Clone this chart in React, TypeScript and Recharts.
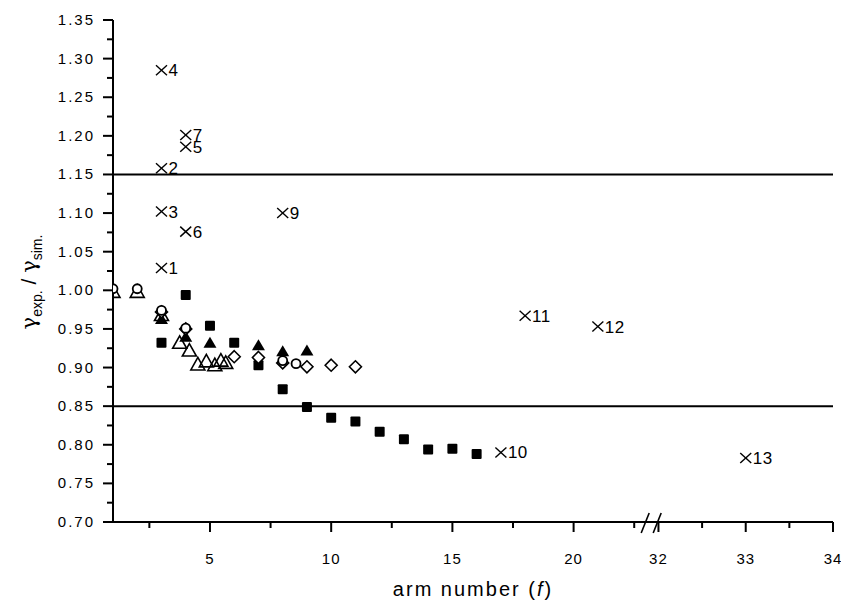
import React from "react";
import { ScatterChart, Scatter, XAxis, YAxis, ReferenceLine } from "recharts";

const FONT = '"Liberation Sans", Arial, Helvetica, sans-serif';
const GREEK = '"DejaVu Serif", "Liberation Serif", serif';

// filled squares
const squareX = [3, 4, 5, 6, 7, 8, 9, 10, 11, 12, 13, 14, 15, 16];
const squareY = [0.932, 0.994, 0.954, 0.932, 0.903, 0.872, 0.849, 0.835, 0.83, 0.817, 0.807, 0.794, 0.795, 0.788];

// filled triangles
const triFilledX = [3, 4, 5, 7, 8, 9];
const triFilledY = [0.963, 0.94, 0.932, 0.929, 0.921, 0.922];

// open triangles
const triOpenX = [1, 2, 3, 3.75, 4.15, 4.5, 4.85, 5.2, 5.45, 5.65];
const triOpenY = [0.998, 0.998, 0.968, 0.932, 0.922, 0.904, 0.908, 0.903, 0.909, 0.906];

// open diamonds
const diamondX = [3, 4, 6, 7, 8, 9, 10, 11];
const diamondY = [0.972, 0.95, 0.914, 0.913, 0.906, 0.901, 0.903, 0.901];

// open circles
const circleX = [1, 2, 3, 4, 8, 8.55];
const circleY = [1.002, 1.002, 0.974, 0.951, 0.909, 0.905];

// numbered crosses
const crossX = [3, 3, 3, 3, 4, 4, 4, 8, 17, 18, 21, 33];
const crossY = [1.029, 1.158, 1.102, 1.285, 1.186, 1.076, 1.201, 1.1, 0.79, 0.967, 0.953, 0.783];
const crossLabels = ["1", "2", "3", "4", "5", "6", "7", "9", "10", "11", "12", "13"];

// axis ticks
const xMajor = [5, 10, 15, 20, 32, 33, 34];
const xMinor = [2.5, 7.5, 12.5, 17.5, 22.5, 32.5, 33.5];
const yMajor = [0.7, 0.75, 0.8, 0.85, 0.9, 0.95, 1.0, 1.05, 1.1, 1.15, 1.2, 1.25, 1.3, 1.35];
const yMinor = [0.725, 0.775, 0.825, 0.875, 0.925, 0.975, 1.025, 1.075, 1.125, 1.175, 1.225, 1.275, 1.325];

// broken x axis: 1..~23 linear, then 32..34 stretched
const U32 = 23.5;
const STRETCH = 3.6;
const BREAK_U = 23.2;
const toU = (x: number) => (x < 30 ? x : U32 + (x - 32) * STRETCH);
const X_MAX = toU(34);

const pts = (xs: number[], ys: number[]) => xs.map((x, i) => ({ u: toU(x), v: ys[i] }));
const squares = pts(squareX, squareY);
const triFilled = pts(triFilledX, triFilledY);
const triOpen = pts(triOpenX, triOpenY);
const diamonds = pts(diamondX, diamondY);
const circles = pts(circleX, circleY);
const crosses = crossX.map((x, i) => ({ u: toU(x), v: crossY[i], label: crossLabels[i] }));

const xLabelMap = new Map<number, string>();
xMajor.forEach((x) => xLabelMap.set(toU(x), String(x)));
const xTicks = [...xMajor, ...xMinor].map(toU).concat([BREAK_U]).sort((a, b) => a - b);
const yMajorSet = new Set(yMajor);
const yTicks = [...yMajor, ...yMinor].sort((a, b) => a - b);

const XTick = ({ x, y, payload }: any) => {
  if (payload.value === BREAK_U) {
    return (
      <g stroke="#000" strokeWidth={1.6}>
        <line x1={x - 10} y1={y + 11} x2={x - 2} y2={y - 9} />
        <line x1={x + 2} y1={y + 11} x2={x + 10} y2={y - 9} />
      </g>
    );
  }
  const label = xLabelMap.get(payload.value);
  return (
    <g>
      <line x1={x} x2={x} y1={y} y2={y + (label ? 10 : 6)} stroke="#000" strokeWidth={2} />
      {label && (
        <text x={x} y={y + 42} textAnchor="middle" fontSize={15} fontFamily={FONT} letterSpacing={1} fill="#000">
          {label}
        </text>
      )}
    </g>
  );
};

const YTick = ({ x, y, payload }: any) => {
  const major = yMajorSet.has(payload.value);
  return (
    <g>
      <line x1={x - (major ? 10 : 6)} x2={x} y1={y} y2={y} stroke="#000" strokeWidth={2} />
      {major && (
        <text x={x - 18} y={y + 5} textAnchor="end" fontSize={15} fontFamily={FONT} letterSpacing={2} fill="#000">
          {payload.value.toFixed(2)}
        </text>
      )}
    </g>
  );
};

const YTitle = () => (
  <text x={36} y={282} transform="rotate(-90 36 282)" textAnchor="middle" fontSize={21} fontFamily={FONT} fill="#000">
    <tspan fontFamily={GREEK}>γ</tspan>
    <tspan fontSize={14} dy={6}>exp.</tspan>
    <tspan dy={-6}> / </tspan>
    <tspan fontFamily={GREEK}>γ</tspan>
    <tspan fontSize={14} dy={6}>sim.</tspan>
  </text>
);

const XTitle = () => (
  <text x={473} y={596} textAnchor="middle" fontSize={20} fontFamily={FONT} letterSpacing={2} fill="#000">
    arm number (<tspan fontStyle="italic">f</tspan>)
  </text>
);

const Square = ({ cx, cy }: any) => <rect x={cx - 5} y={cy - 5} width={10} height={10} rx={1} fill="#000" />;
const TriFilled = ({ cx, cy }: any) => (
  <polygon points={`${cx},${cy - 6} ${cx + 6.5},${cy + 5} ${cx - 6.5},${cy + 5}`} fill="#000" />
);
const TriOpen = ({ cx, cy }: any) => (
  <polygon
    points={`${cx},${cy - 7} ${cx + 7},${cy + 5.5} ${cx - 7},${cy + 5.5}`}
    fill="none"
    stroke="#000"
    strokeWidth={1.6}
  />
);
const Diamond = ({ cx, cy }: any) => (
  <polygon
    points={`${cx},${cy - 6} ${cx + 6},${cy} ${cx},${cy + 6} ${cx - 6},${cy}`}
    fill="#fff"
    stroke="#000"
    strokeWidth={1.6}
  />
);
const Circle = ({ cx, cy }: any) => <circle cx={cx} cy={cy} r={4.5} fill="#fff" stroke="#000" strokeWidth={1.8} />;
const Cross = ({ cx, cy, payload }: any) => (
  <g>
    <line x1={cx - 5.5} y1={cy - 5} x2={cx + 5.5} y2={cy + 5} stroke="#000" strokeWidth={1.4} />
    <line x1={cx - 5.5} y1={cy + 5} x2={cx + 5.5} y2={cy - 5} stroke="#000" strokeWidth={1.4} />
    <text x={cx + 7} y={cy + 6} fontSize={17} fontFamily={FONT} letterSpacing={0.5} fill="#000">
      {payload.label}
    </text>
  </g>
);

export default function App() {
  return (
    <div style={{ position: "absolute", left: 0, top: 0, width: 841, height: 602, background: "#fff" }}>
      <ScatterChart width={841} height={602} margin={{ top: 20, right: 8, bottom: 0, left: 0 }}>
        <XAxis
          type="number"
          dataKey="u"
          domain={[1, X_MAX]}
          ticks={xTicks}
          interval={0}
          height={80}
          tickSize={0}
          tickMargin={0}
          tickLine={false}
          tick={<XTick />}
          axisLine={{ stroke: "#000", strokeWidth: 2 }}
          allowDataOverflow
          label={<XTitle />}
        />
        <YAxis
          type="number"
          dataKey="v"
          domain={[0.7, 1.35]}
          ticks={yTicks}
          interval={0}
          width={113}
          tickSize={0}
          tickMargin={0}
          tickLine={false}
          tick={<YTick />}
          axisLine={{ stroke: "#000", strokeWidth: 2 }}
          allowDataOverflow
          label={<YTitle />}
        />
        <ReferenceLine y={1.15} stroke="#000" strokeWidth={2} />
        <ReferenceLine y={0.85} stroke="#000" strokeWidth={2} />
        <Scatter data={squares} shape={<Square />} isAnimationActive={false} />
        <Scatter data={triFilled} shape={<TriFilled />} isAnimationActive={false} />
        <Scatter data={triOpen} shape={<TriOpen />} isAnimationActive={false} />
        <Scatter data={diamonds} shape={<Diamond />} isAnimationActive={false} />
        <Scatter data={circles} shape={<Circle />} isAnimationActive={false} />
        <Scatter data={crosses} shape={<Cross />} isAnimationActive={false} />
      </ScatterChart>
    </div>
  );
}
